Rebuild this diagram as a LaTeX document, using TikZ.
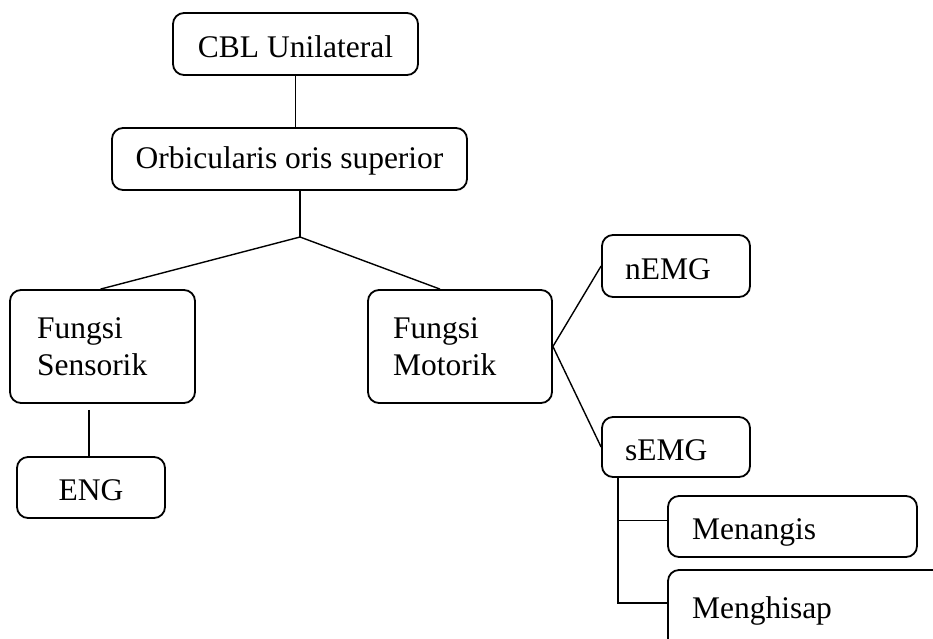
\documentclass[tikz,border=0pt]{standalone}
\usepackage{fontspec}
\setmainfont{Liberation Serif}
\usepackage{tikz}
\tikzstyle{kotak}=[
  draw, rounded corners=11pt, line width=1.8pt, inner sep=0pt, font=\fontsize{31.5}{37}\selectfont
]
\tikzstyle{satu}=[kotak, text height=26pt, text depth=0pt]
\tikzstyle{dua}=[kotak, align=left]
\tikzstyle{garis}=[line width=1.4pt]

\begin{document}
\begin{tikzpicture}[x=1pt,y=-1pt]
      \useasboundingbox (0,0) rectangle (933,638);
      % boxes
      \node[satu, minimum width=245pt, minimum height=62pt] (cbl) at (295.5,44) {CBL Unilateral};
      \node[satu, minimum width=355pt, minimum height=62pt, text height=18pt] (orb) at (289.5,159) {Orbicularis oris superior};
      \node[dua, text width=131pt, inner xsep=27pt, minimum height=113pt] (sens) at (102.5,346.5) {Fungsi\\Sensorik};
      \node[dua, text width=134pt, inner xsep=25pt, minimum height=113pt] (motor) at (460,346.5) {Fungsi\\Motorik};
      \node[satu, minimum width=148pt, minimum height=61pt] (eng) at (91,487.5) {ENG};
      \node[satu, align=left, text width=102pt, inner xsep=23pt, minimum height=62pt] (nemg) at (676,266) {nEMG};
      \node[satu, align=left, text width=102pt, inner xsep=23pt, minimum height=60pt] (semg) at (676,447) {sEMG};
      \node[satu, align=left, text width=201pt, inner xsep=24pt, minimum height=61pt] (tangis) at (792.5,526.5) {Menangis};
      \node[satu, align=left, text width=234pt, inner xsep=24pt, minimum height=82pt, text height=14pt] (hisap) at (809,611) {Menghisap};
      % connectors
      \coordinate (cabang) at (300,237);
      \draw[garis] (cbl.south) -- (cbl.south |- orb.north);
      \draw[garis] (orb.south -| cabang) -- (cabang);
      \draw[garis] (cabang) -- ([xshift=-2pt]sens.north);
      \draw[garis] (cabang) -- ([xshift=-20pt]motor.north);
      \draw[garis, shorten <=6pt] ([xshift=-2pt]eng.north |- sens.south) -- ([xshift=-2pt]eng.north);
      \draw[garis] (motor.east) -- (nemg.west);
      \draw[garis] (motor.east) -- (semg.west);
      \draw[garis] ([xshift=17pt]semg.south west) |- ([yshift=6pt]tangis.west);
      \draw[garis] ([xshift=17pt]semg.south west) |- ([yshift=8pt]hisap.west);
    \end{tikzpicture}
\end{document}
